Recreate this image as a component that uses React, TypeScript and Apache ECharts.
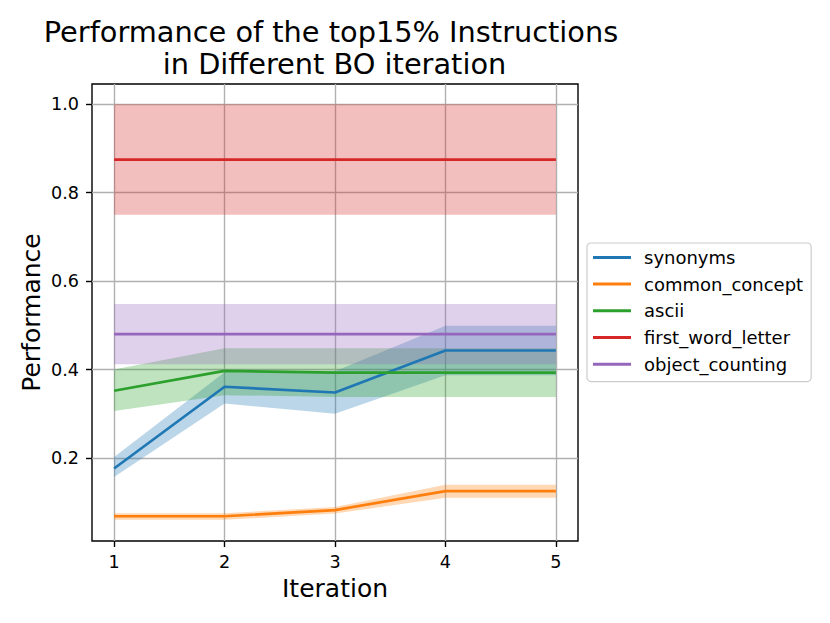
import React, { useEffect, useRef } from "react";
import * as echarts from "echarts";

const iterations = [1, 2, 3, 4, 5];
const taskNames = ["synonyms", "common_concept", "ascii", "first_word_letter", "object_counting"];
const taskColors = ["#1f77b4", "#ff7f0e", "#2ca02c", "#d62728", "#9467bd"];

const synonymsMean = [0.176, 0.361, 0.348, 0.443, 0.443];
const synonymsLow = [0.157, 0.323, 0.300, 0.387, 0.387];
const synonymsHigh = [0.202, 0.394, 0.396, 0.499, 0.499];

const commonConceptMean = [0.068, 0.068, 0.082, 0.125, 0.125];
const commonConceptLow = [0.060, 0.060, 0.074, 0.110, 0.110];
const commonConceptHigh = [0.075, 0.075, 0.089, 0.139, 0.139];

const asciiMean = [0.352, 0.397, 0.393, 0.393, 0.393];
const asciiLow = [0.306, 0.342, 0.338, 0.338, 0.338];
const asciiHigh = [0.400, 0.448, 0.448, 0.448, 0.448];

const firstWordMean = [0.875, 0.875, 0.875, 0.875, 0.875];
const firstWordLow = [0.75, 0.75, 0.75, 0.75, 0.75];
const firstWordHigh = [1.0, 1.0, 1.0, 1.0, 1.0];

const objectCountingMean = [0.480, 0.480, 0.480, 0.480, 0.480];
const objectCountingLow = [0.412, 0.412, 0.412, 0.412, 0.412];
const objectCountingHigh = [0.548, 0.548, 0.548, 0.548, 0.548];

const xTicks = [1, 2, 3, 4, 5];
const yTicks = [0.2, 0.4, 0.6, 0.8, 1.0];

const titleLines = ["Performance of the top15% Instructions", "in Different BO iteration"];
const xName = "Iteration";
const yName = "Performance";

const FONT = "DejaVu Sans";

export default function App() {
  const ref = useRef<HTMLDivElement>(null);
  useEffect(() => {
    if (!ref.current) return;
    const chart = echarts.init(ref.current, null, { renderer: "svg" });
    const means = [synonymsMean, commonConceptMean, asciiMean, firstWordMean, objectCountingMean];
    const lows = [synonymsLow, commonConceptLow, asciiLow, firstWordLow, objectCountingLow];
    const highs = [synonymsHigh, commonConceptHigh, asciiHigh, firstWordHigh, objectCountingHigh];

    const series: any[] = [];
    taskNames.forEach((name, i) => {
      const rows = iterations.map((x, k) => [x, lows[i][k], highs[i][k]]);
      series.push({
        name: name + "_band",
        type: "custom",
        data: rows,
        encode: { x: 0, y: [1, 2] },
        silent: true,
        z: 1,
        renderItem: (params: any, api: any) => {
          if (params.dataIndex !== 0) return null;
          const upper = rows.map((r) => api.coord([r[0], r[2]]));
          const lower = rows.map((r) => api.coord([r[0], r[1]])).reverse();
          return {
            type: "polygon",
            shape: { points: upper.concat(lower) },
            style: { fill: taskColors[i], opacity: 0.3 },
          };
        },
      });
    });
    taskNames.forEach((name, i) => {
      series.push({
        name,
        type: "line",
        data: iterations.map((x, k) => [x, means[i][k]]),
        symbol: "none",
        color: taskColors[i],
        lineStyle: { width: 2.7, color: taskColors[i] },
        z: 3,
      });
    });

    chart.setOption({
      animation: false,
      grid: {
        left: 92,
        right: 252,
        top: 84,
        bottom: 82,
        show: true,
        borderColor: "#000",
        borderWidth: 1.4,
        backgroundColor: "transparent",
      },
      xAxis: {
        type: "value",
        min: 0.8,
        max: 5.2,
        axisLine: { show: false },
        axisTick: {
          show: true,
          customValues: xTicks,
          length: 6,
          lineStyle: { color: "#000", width: 1.4 },
        },
        axisLabel: {
          customValues: xTicks,
          margin: 12,
          color: "#000",
          fontFamily: FONT,
          fontSize: 17.6,
          formatter: (v: number) => String(v),
        },
        splitLine: { show: true, lineStyle: { color: "#b0b0b0", width: 1.4 } },
      },
      yAxis: {
        type: "value",
        min: 0.012,
        max: 1.046,
        axisLine: { show: false },
        axisTick: {
          show: true,
          customValues: yTicks,
          length: 6,
          lineStyle: { color: "#000", width: 1.4 },
        },
        axisLabel: {
          customValues: yTicks,
          margin: 13,
          color: "#000",
          fontFamily: FONT,
          fontSize: 17.6,
          formatter: (v: number) => v.toFixed(1),
        },
        splitLine: { show: true, lineStyle: { color: "#b0b0b0", width: 1.4 } },
      },
      legend: {
        data: taskNames,
        orient: "vertical",
        left: 587,
        top: 243,
        icon: "rect",
        itemWidth: 38,
        itemHeight: 3,
        itemGap: 6.7,
        padding: [4.4, 8, 7.4, 6],
        borderColor: "#cccccc",
        borderWidth: 1.2,
        borderRadius: 4,
        backgroundColor: "rgba(255,255,255,0.8)",
        selectedMode: false,
        textStyle: {
          color: "#000",
          fontFamily: FONT,
          fontSize: 18,
          lineHeight: 20,
          padding: [0, 0, 0, 8],
        },
      },
      graphic: [
        {
          type: "text",
          x: 331,
          y: 31.5,
          style: {
            text: titleLines[0],
            fontFamily: FONT,
            fontSize: 28.8,
            fill: "#000",
            textAlign: "center",
            textVerticalAlign: "middle",
          },
        },
        {
          type: "text",
          x: 334.5,
          y: 64,
          style: {
            text: titleLines[1],
            fontFamily: FONT,
            fontSize: 28.8,
            fill: "#000",
            textAlign: "center",
            textVerticalAlign: "middle",
          },
        },
        {
          type: "text",
          x: 335,
          y: 588.5,
          style: {
            text: xName,
            fontFamily: FONT,
            fontSize: 25,
            fill: "#000",
            textAlign: "center",
            textVerticalAlign: "middle",
          },
        },
        {
          type: "text",
          x: 31,
          y: 312.5,
          rotation: Math.PI / 2,
          style: {
            text: yName,
            fontFamily: FONT,
            fontSize: 25,
            fill: "#000",
            textAlign: "center",
            textVerticalAlign: "middle",
          },
        },
      ],
      series,
    });
    return () => chart.dispose();
  }, []);
  return (
    <div
      ref={ref}
      style={{ position: "fixed", left: 0, top: 0, width: 830, height: 623, background: "#fff" }}
    />
  );
}
